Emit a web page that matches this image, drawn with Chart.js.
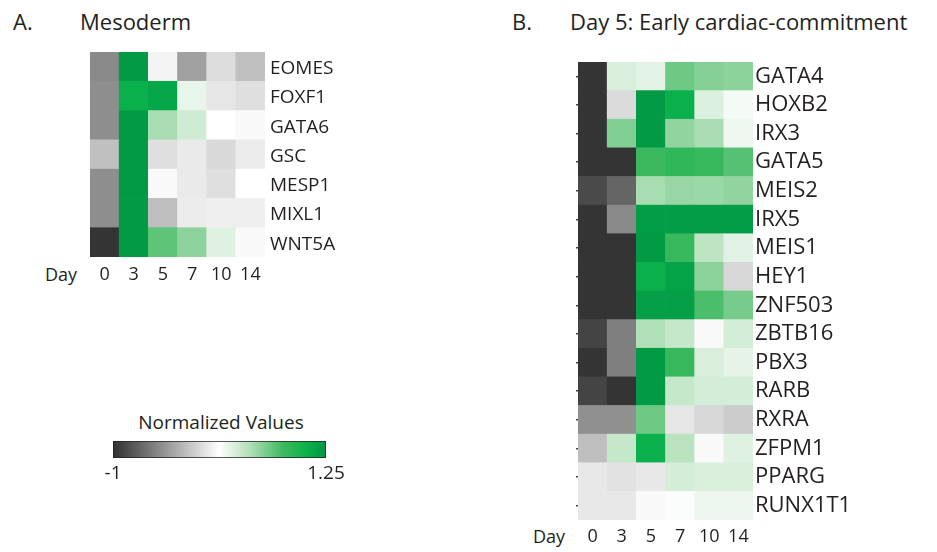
<!DOCTYPE html>
<html><head><meta charset="utf-8">
<script src="https://cdn.jsdelivr.net/npm/chart.js@4/dist/chart.umd.min.js"></script>
<style>
html,body{margin:0;padding:0;background:#fff;width:937px;height:552px;overflow:hidden;font-family:'Open Sans',sans-serif;color:#231f20;}
canvas{position:absolute;}
.t{position:absolute;white-space:nowrap;line-height:1;}
</style></head><body>
<div class="t" style="left:13px;top:10px;font-size:22px">A.</div>
<div class="t" style="left:80px;top:10px;font-size:22px">Mesoderm</div>
<div class="t" style="left:512px;top:10px;font-size:22px">B.</div>
<div class="t" style="left:570px;top:10px;font-size:22px">Day 5: Early cardiac-commitment</div>
<div class="t" style="left:45px;top:265px;font-size:18px">Day</div>
<div class="t" style="left:533px;top:527px;font-size:18px">Day</div>
<div class="t" style="left:121px;width:200px;text-align:center;top:413px;font-size:19px">Normalized Values</div>
<canvas id="cA" width="380" height="300" style="left:0;top:0;width:380px;height:300px"></canvas>
<canvas id="cB" width="467" height="552" style="left:470px;top:0;width:467px;height:552px"></canvas>
<canvas id="cC" width="320" height="60" style="left:60px;top:430px;width:320px;height:60px"></canvas>
<script>
// ---- data ----
const days = ['0', '3', '5', '7', '10', '14'];
const genesA = ['EOMES', 'FOXF1', 'GATA6', 'GSC', 'MESP1', 'MIXL1', 'WNT5A'];
const valuesA = [
  [-0.51, 1.22, 0.065, -0.39, -0.065, -0.22],
  [-0.49, 1.05, 1.12, 0.22, -0.01, -0.05],
  [-0.49, 1.22, 0.47, 0.32, 0.125, 0.09],
  [-0.22, 1.22, -0.05, 0.01, -0.08, 0.02],
  [-0.49, 1.22, 0.09, 0.01, -0.05, 0.125],
  [-0.49, 1.22, -0.23, 0.02, 0.04, 0.04],
  [-0.98, 1.22, 0.70, 0.55, 0.255, 0.09]
];
const genesB = ['GATA4', 'HOXB2', 'IRX3', 'GATA5', 'MEIS2', 'IRX5', 'MEIS1', 'HEY1', 'ZNF503', 'ZBTB16', 'PBX3', 'RARB', 'RXRA', 'ZFPM1', 'PPARG', 'RUNX1T1'];
const valuesB = [
  [-0.98, 0.28, 0.24, 0.65, 0.58, 0.56],
  [-0.98, -0.07, 1.22, 1.05, 0.27, 0.17],
  [-0.98, 0.59, 1.22, 0.54, 0.47, 0.19],
  [-0.98, -0.98, 0.80, 0.86, 0.82, 0.72],
  [-0.86, -0.71, 0.47, 0.52, 0.51, 0.54],
  [-0.98, -0.51, 1.20, 1.20, 1.20, 1.20],
  [-0.98, -0.98, 1.22, 0.82, 0.39, 0.25],
  [-0.98, -0.98, 1.05, 1.15, 0.56, -0.09],
  [-0.98, -0.98, 1.18, 1.18, 0.75, 0.62],
  [-0.89, -0.57, 0.44, 0.36, 0.09, 0.30],
  [-0.98, -0.57, 1.22, 0.82, 0.28, 0.23],
  [-0.89, -0.98, 1.22, 0.36, 0.30, 0.30],
  [-0.48, -0.48, 0.65, -0.01, -0.09, -0.15],
  [-0.23, 0.36, 1.05, 0.41, 0.09, 0.255],
  [0.00, -0.03, 0.00, 0.30, 0.28, 0.28],
  [0.00, 0.00, 0.09, 0.145, 0.20, 0.20]
];
const scaleRange = [-1, 1.25];
const scaleTickLabels = ['-1', '1.25'];

// ---- colour map ----
const cmap = [
  [-1, [48, 48, 48]],
  [0.125, [255, 255, 255]],
  [0.45, [175, 222, 182]],
  [0.8, [60, 185, 95]],
  [1.05, [10, 176, 75]],
  [1.25, [0, 150, 68]]
];
function colorFor(v) {
  if (v <= cmap[0][0]) return rgb(cmap[0][1]);
  for (let i = 1; i < cmap.length; i++) {
    if (v <= cmap[i][0]) {
      const a = cmap[i - 1], b = cmap[i];
      const t = (v - a[0]) / (b[0] - a[0]);
      return rgb(a[1].map((c, k) => c + (b[1][k] - c) * t));
    }
  }
  return rgb(cmap[cmap.length - 1][1]);
}
function rgb(c) { return 'rgb(' + c.map(Math.round).join(',') + ')'; }

const TXT = '#231f20';
Chart.defaults.font.family = "'Open Sans', sans-serif";
Chart.defaults.color = TXT;

function heatmap(id, genes, values, cfg) {
  const N = genes.length;
  const datasets = genes.map((g, i) => ({
    label: g,
    data: days.map(() => 1),
    backgroundColor: values[i].map(colorFor),
    borderWidth: 0,
    barPercentage: 1,
    categoryPercentage: 1,
    stack: 's'
  })).reverse();
  const rowTicks = s => { s.ticks = genes.map((g, i) => ({ value: N - i - 0.5 })); };
  const scales = {
    x: {
      stacked: true,
      grid: { display: false, drawTicks: false },
      border: { display: false },
      ticks: { font: { size: cfg.dayFont }, padding: cfg.xPad, maxRotation: 0, autoSkip: false },
      afterFit: s => { s.height = cfg.xH; }
    },
    y: {
      stacked: true,
      position: 'right',
      min: 0, max: N,
      grid: { display: false, drawTicks: false },
      border: { display: false },
      afterBuildTicks: rowTicks,
      ticks: {
        autoSkip: false,
        font: { size: cfg.geneFont },
        padding: cfg.yPad,
        labelOffset: cfg.labelOffset || 0,
        callback: v => genes[Math.round(N - 0.5 - v)]
      },
      afterFit: s => { s.width = cfg.yW; }
    }
  };
  if (cfg.leftTicks) {
    scales.yl = {
      position: 'left',
      min: 0, max: N,
      grid: { display: true, drawOnChartArea: false, drawTicks: true, tickLength: 2, color: '#444', lineWidth: 1.5 },
      border: { display: false },
      afterBuildTicks: rowTicks,
      ticks: { display: false },
      afterFit: s => { s.width = 2; }
    };
  }
  return new Chart(document.getElementById(id), {
    type: 'bar',
    data: { labels: days, datasets },
    options: {
      responsive: false, animation: false, events: [],
      layout: { padding: { left: cfg.padL, top: cfg.padT, right: 0, bottom: 0 } },
      plugins: { legend: { display: false }, tooltip: { enabled: false } },
      scales
    }
  });
}

heatmap('cA', genesA, valuesA, { padL: 90, padT: 52, xH: 43, yW: 115, geneFont: 19, dayFont: 18, xPad: 7, yPad: 5, labelOffset: 2 });
heatmap('cB', genesB, valuesB, { padL: 106, padT: 62, xH: 32, yW: 184, geneFont: 22, dayFont: 18, xPad: 6, yPad: 2, leftTicks: true });

// colour bar
new Chart(document.getElementById('cC'), {
  type: 'bar',
  data: {
    labels: [''],
    datasets: [{
      data: [scaleRange],
      backgroundColor: ctx => {
        const ch = ctx.chart;
        if (!ch.chartArea) return '#fff';
        const xs = ch.scales.x;
        const x0 = xs.getPixelForValue(scaleRange[0]), x1 = xs.getPixelForValue(scaleRange[1]);
        const g = ch.ctx.createLinearGradient(x0, 0, x1, 0);
        cmap.forEach(s => g.addColorStop((s[0] - scaleRange[0]) / (scaleRange[1] - scaleRange[0]), rgb(s[1])));
        return g;
      },
      borderColor: TXT,
      borderWidth: 1,
      borderSkipped: false,
      barPercentage: 1,
      categoryPercentage: 1
    }]
  },
  options: {
    indexAxis: 'y',
    responsive: false, animation: false, events: [],
    layout: { padding: { left: 53, right: 54, top: 11, bottom: 0 } },
    plugins: { legend: { display: false }, tooltip: { enabled: false } },
    scales: {
      y: { display: false },
      x: {
        min: scaleRange[0], max: scaleRange[1],
        grid: { display: false, drawTicks: false },
        border: { display: false },
        afterBuildTicks: s => { s.ticks = scaleRange.map(v => ({ value: v })); },
        ticks: { font: { size: 19 }, padding: 4, maxRotation: 0, autoSkip: false,
          callback: (v, i) => scaleTickLabels[i] },
        afterFit: s => { s.height = 32; }
      }
    }
  }
});
</script>
</body></html>
